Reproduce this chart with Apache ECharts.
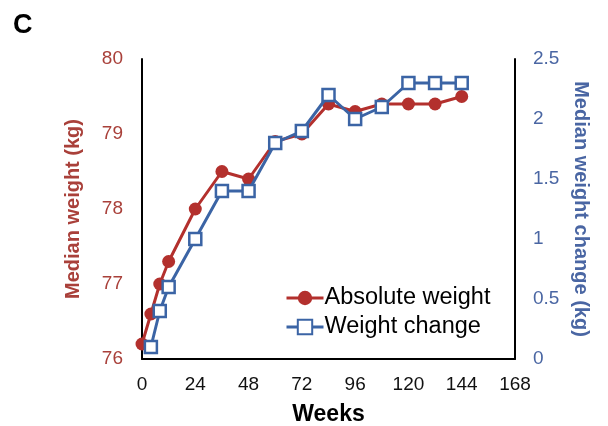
<!DOCTYPE html>
<html>
<head>
<meta charset="utf-8">
<script src="https://cdn.jsdelivr.net/npm/echarts@6/dist/echarts.min.js"></script>
<style>
  html, body { margin: 0; padding: 0; background: #fff; }
  #main { width: 608px; height: 426px; }
</style>
</head>
<body>
<div id="main"></div>
<script>
// data
var weeksAbs = [0, 4, 8, 12, 24, 36, 48, 60, 72, 84, 96, 108, 120, 132, 144]
var absWeight = [76.2, 76.6, 77.0, 77.3, 78.0, 78.5, 78.4, 78.9, 79.0, 79.4, 79.3, 79.4, 79.4, 79.4, 79.5]
var weeksChange = [4, 8, 12, 24, 36, 48, 60, 72, 84, 96, 108, 120, 132, 144]
var weightChange = [0.1, 0.4, 0.6, 1.0, 1.4, 1.4, 1.8, 1.9, 2.2, 2.0, 2.1, 2.3, 2.3, 2.3]

var red = '#b3302d'
var blue = '#3b64a5'
var redText = '#a9403a'
var blueText = '#4a66a3'
var font = 'Liberation Sans, Arial, sans-serif'

function pairs(xs, ys) {
  var out = []
  for (var i = 0; i < xs.length; i++) out.push([xs[i], ys[i]])
  return out
}

var myChart = echarts.init(document.getElementById('main'), null, { renderer: 'canvas' })

var option = {
  animation: false,
  textStyle: { fontFamily: font },
  title: {
    text: 'C',
    left: 8,
    top: 7,
    textStyle: { fontSize: 27, fontWeight: 'bold', color: '#000', fontFamily: font }
  },
  legend: {
    orient: 'vertical',
    left: 285,
    top: 286,
    padding: 0,
    itemWidth: 37,
    itemHeight: 18,
    itemGap: 5,
    lineStyle: { width: 3 },
    textStyle: { fontSize: 23.5, color: '#000', fontFamily: font, padding: [0, 0, 0, -4] },
    data: ['Absolute weight', 'Weight change']
  },
  grid: { left: 142, right: 93, top: 59, bottom: 67, outerBoundsMode: 'none' },
  xAxis: {
    type: 'value',
    min: 0,
    max: 168,
    interval: 24,
    name: 'Weeks',
    nameLocation: 'middle',
    nameGap: 44,
    nameTextStyle: { fontSize: 23, fontWeight: 'bold', color: '#000', fontFamily: font },
    axisLine: { lineStyle: { color: '#000', width: 2 } },
    axisTick: { show: false },
    splitLine: { show: false },
    axisLabel: { fontSize: 19, color: '#111', margin: 16, fontFamily: font }
  },
  yAxis: [
    {
      type: 'value',
      min: 76,
      max: 80,
      interval: 1,
      position: 'left',
      name: 'Median weight (kg)',
      nameLocation: 'middle',
      nameGap: 59,
      nameTextStyle: { fontSize: 20, fontWeight: 'bold', color: redText, fontFamily: font },
      axisLine: { show: true, lineStyle: { color: '#000', width: 2 } },
      axisTick: { show: false },
      splitLine: { show: false },
      axisLabel: { fontSize: 19, color: redText, margin: 19, fontFamily: font }
    },
    {
      type: 'value',
      min: 0,
      max: 2.5,
      interval: 0.5,
      position: 'right',
      name: 'Median weight change (kg)',
      nameLocation: 'middle',
      nameRotate: -90,
      nameGap: 54,
      nameTextStyle: { fontSize: 20, fontWeight: 'bold', color: blueText, fontFamily: font },
      axisLine: { show: true, lineStyle: { color: '#000', width: 2 } },
      axisTick: { show: false },
      splitLine: { show: false },
      axisLabel: { fontSize: 19, color: blueText, margin: 18, fontFamily: font }
    }
  ],
  series: [
    {
      name: 'Absolute weight',
      type: 'line',
      yAxisIndex: 0,
      data: pairs(weeksAbs, absWeight),
      symbol: 'circle',
      symbolSize: 13,
      lineStyle: { color: red, width: 3 },
      itemStyle: { color: red },
      z: 2
    },
    {
      name: 'Weight change',
      type: 'line',
      yAxisIndex: 1,
      data: pairs(weeksChange, weightChange),
      symbol: 'rect',
      symbolSize: 12,
      lineStyle: { color: blue, width: 3 },
      itemStyle: { color: '#fff', borderColor: blue, borderWidth: 2.5 },
      z: 3
    }
  ]
}

myChart.setOption(option)
</script>
</body>
</html>
